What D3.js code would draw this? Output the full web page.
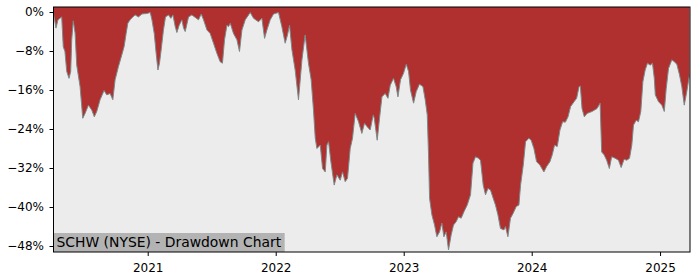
<!DOCTYPE html>
<html>
<head>
<meta charset="utf-8">
<script src="https://cdnjs.cloudflare.com/ajax/libs/d3/7.8.5/d3.min.js"></script>
<style>
  body { margin: 0; background: #fff; }
  svg { display: block; font-family: "DejaVu Sans", sans-serif; }
</style>
</head>
<body>
<div id="chart"></div>
<script>
// dates as decimal years, drawdown in percent
var years = [
  2020.266, 2020.275, 2020.285, 2020.301, 2020.330, 2020.342, 2020.355, 2020.369, 2020.387, 2020.400,
  2020.408, 2020.420, 2020.434, 2020.447, 2020.473, 2020.494, 2020.512, 2020.538, 2020.564, 2020.584,
  2020.603, 2020.629, 2020.660, 2020.681, 2020.707, 2020.728, 2020.746, 2020.772, 2020.798, 2020.816,
  2020.832, 2020.845, 2020.863, 2020.884, 2020.902, 2020.928, 2020.955, 2020.994, 2021.020, 2021.033,
  2021.051, 2021.066, 2021.080, 2021.092, 2021.105, 2021.123, 2021.139, 2021.163, 2021.181, 2021.197,
  2021.215, 2021.228, 2021.246, 2021.267, 2021.280, 2021.293, 2021.319, 2021.345, 2021.371, 2021.397,
  2021.418, 2021.436, 2021.463, 2021.488, 2021.514, 2021.541, 2021.566, 2021.584, 2021.600, 2021.619,
  2021.631, 2021.645, 2021.670, 2021.697, 2021.717, 2021.736, 2021.762, 2021.801, 2021.827, 2021.866,
  2021.892, 2021.913, 2021.931, 2021.957, 2021.983, 2022.022, 2022.048, 2022.074, 2022.092, 2022.108,
  2022.127, 2022.152, 2022.178, 2022.205, 2022.230, 2022.256, 2022.277, 2022.295, 2022.309, 2022.322,
  2022.348, 2022.366, 2022.387, 2022.400, 2022.413, 2022.431, 2022.457, 2022.478, 2022.504, 2022.522,
  2022.543, 2022.561, 2022.582, 2022.600, 2022.621, 2022.647, 2022.673, 2022.694, 2022.713, 2022.738,
  2022.762, 2022.770, 2022.793, 2022.811, 2022.830, 2022.855, 2022.877, 2022.895, 2022.920, 2022.941,
  2022.955, 2022.975, 2022.998, 2023.020, 2023.038, 2023.053, 2023.077, 2023.098, 2023.123, 2023.150,
  2023.168, 2023.184, 2023.194, 2023.202, 2023.220, 2023.241, 2023.259, 2023.280, 2023.298, 2023.314,
  2023.332, 2023.350, 2023.371, 2023.389, 2023.410, 2023.428, 2023.449, 2023.470, 2023.496, 2023.522,
  2023.541, 2023.561, 2023.584, 2023.600, 2023.621, 2023.639, 2023.658, 2023.678, 2023.699, 2023.717,
  2023.736, 2023.756, 2023.783, 2023.795, 2023.814, 2023.834, 2023.855, 2023.879, 2023.900, 2023.913,
  2023.934, 2023.952, 2023.978, 2023.996, 2024.017, 2024.038, 2024.064, 2024.095, 2024.116, 2024.142,
  2024.160, 2024.178, 2024.199, 2024.220, 2024.241, 2024.262, 2024.283, 2024.303, 2024.330, 2024.350,
  2024.369, 2024.379, 2024.392, 2024.410, 2024.431, 2024.470, 2024.509, 2024.533, 2024.545, 2024.564,
  2024.584, 2024.605, 2024.623, 2024.650, 2024.676, 2024.697, 2024.720, 2024.741, 2024.762, 2024.780,
  2024.793, 2024.814, 2024.832, 2024.850, 2024.866, 2024.884, 2024.902, 2024.923, 2024.941, 2024.955,
  2024.963, 2024.988, 2025.014, 2025.033, 2025.048, 2025.066, 2025.092, 2025.111, 2025.131, 2025.152,
  2025.170, 2025.189, 2025.209, 2025.230
];

var drawdown = [
  -0.4, -1.6, -3.3, -1.6, -1.0, -7.1, -8.1, -12.2, -13.6, -12.2,
  -5.7, -1.8, -4.3, -10.9, -15.3, -21.8, -20.8, -19.1, -20.1, -21.5,
  -20.4, -18.0, -16.1, -17.0, -16.7, -18.0, -13.9, -11.2, -8.8, -7.1,
  -4.4, -2.3, -1.6, -1.0, -0.6, -1.0, -0.4, -0.3, -0.1, -1.6,
  -4.4, -8.5, -11.9, -10.5, -7.8, -3.7, -1.0, -0.6, -1.3, -0.6,
  -3.0, -4.2, -2.7, -1.6, -3.3, -4.0, -1.0, -0.6, -1.1, -1.6,
  -0.4, -1.6, -3.7, -4.4, -6.4, -8.5, -10.2, -10.5, -5.7, -2.7,
  -3.0, -2.3, -4.4, -5.7, -8.1, -3.7, -1.6, -0.1, -1.3, -2.0,
  -1.3, -5.4, -3.7, -1.6, -0.4, -0.1, -3.0, -6.4, -4.7, -2.7,
  -7.8, -11.9, -18.0, -9.8, -4.7, -10.5, -13.9, -20.1, -25.9, -28.0,
  -27.3, -32.1, -32.8, -27.3, -26.6, -30.7, -35.5, -33.4, -34.5, -32.8,
  -34.8, -34.1, -28.0, -25.9, -20.8, -22.5, -24.9, -22.8, -23.5, -24.2,
  -21.1, -21.8, -26.3, -21.8, -17.4, -16.7, -17.7, -15.0, -13.6, -15.3,
  -17.4, -13.9, -12.6, -10.7, -12.2, -16.0, -18.7, -16.3, -14.8, -15.3,
  -18.0, -21.1, -29.3, -38.2, -41.6, -43.7, -46.1, -45.1, -43.3, -46.1,
  -45.1, -48.8, -45.7, -43.7, -43.0, -42.0, -42.3, -41.0, -39.6, -37.5,
  -31.0, -29.7, -30.0, -30.4, -35.5, -37.5, -36.2, -36.5, -38.2, -39.6,
  -41.6, -44.4, -44.7, -44.0, -46.1, -42.3, -41.3, -39.9, -39.6, -35.5,
  -31.4, -26.6, -25.9, -26.3, -28.0, -30.7, -31.4, -32.8, -31.7, -30.7,
  -29.3, -27.3, -27.6, -24.2, -22.5, -22.6, -21.5, -19.4, -18.4, -17.7,
  -15.3, -15.2, -19.8, -21.5, -20.8, -20.4, -19.8, -18.7, -28.7, -29.3,
  -30.4, -32.1, -29.7, -30.0, -30.4, -31.9, -30.2, -30.4, -30.0, -27.3,
  -23.2, -22.2, -22.5, -20.4, -14.3, -11.9, -10.5, -10.9, -10.5, -13.6,
  -17.0, -18.4, -19.1, -20.4, -15.7, -11.6, -9.8, -10.2, -10.7, -12.9,
  -15.3, -19.1, -16.3, -12.9
];

var yTicks = [0, -8, -16, -24, -32, -40, -48];
var xTickYears = [2021, 2022, 2023, 2024, 2025];
var title = "SCHW (NYSE) - Drawdown Chart";

function yearToDate(y) {
  var yr = Math.floor(y);
  var start = new Date(yr, 0, 1).getTime();
  var end = new Date(yr + 1, 0, 1).getTime();
  return new Date(start + (y - yr) * (end - start));
}

var data = years.map(function(y, i) {
  return {date: yearToDate(y), value: drawdown[i]};
});

var width = 700, height = 280;
var margin = {top: 7, right: 10, bottom: 28, left: 53.5};
var plotW = 690 - margin.left, plotH = 252 - margin.top;

var svg = d3.select("#chart").append("svg")
    .attr("width", width)
    .attr("height", height);

var x = d3.scaleTime()
    .domain(d3.extent(data, function(d) { return d.date; }))
    .range([0, plotW - 0.5]);

var y = d3.scaleLinear()
    .domain([-49.23, 1.03])
    .range([plotH, 0]);

var g = svg.append("g")
    .attr("transform", "translate(" + margin.left + "," + margin.top + ")");

g.append("rect")
    .attr("width", plotW)
    .attr("height", plotH)
    .attr("fill", "#ececec");

svg.append("clipPath").attr("id", "clip")
  .append("rect")
    .attr("width", plotW)
    .attr("height", plotH);

var area = d3.area()
    .x(function(d) { return x(d.date); })
    .y0(0)
    .y1(function(d) { return y(d.value); });

var line = d3.line()
    .x(function(d) { return x(d.date); })
    .y(function(d) { return y(d.value); });

g.append("path")
    .datum(data)
    .attr("clip-path", "url(#clip)")
    .attr("fill", "#b03030")
    .attr("d", area);

g.append("path")
    .datum(data)
    .attr("clip-path", "url(#clip)")
    .attr("fill", "none")
    .attr("stroke", "#7d8888")
    .attr("stroke-width", 1)
    .attr("d", line);

// axes
var yAxis = d3.axisLeft(y)
    .tickValues(yTicks)
    .tickSize(4)
    .tickPadding(5.5)
    .tickFormat(function(d) { return d3.format("d")(d) + "%"; });

var xAxis = d3.axisBottom(x)
    .tickValues(xTickYears.map(function(yr) { return new Date(yr, 0, 1); }))
    .tickSize(4)
    .tickPadding(7.5)
    .tickFormat(d3.timeFormat("%Y"));

g.append("g")
    .call(yAxis)
    .call(function(a) { a.select(".domain").remove(); })
    .selectAll("text")
    .attr("font-size", 12)
    .attr("font-family", "DejaVu Sans")
    .attr("fill", "#000");

g.append("g")
    .attr("transform", "translate(0," + plotH + ")")
    .call(xAxis)
    .call(function(a) { a.select(".domain").remove(); })
    .selectAll("text")
    .attr("font-size", 12)
    .attr("font-family", "DejaVu Sans")
    .attr("fill", "#000");

g.selectAll(".tick line").attr("stroke", "#000");

// label box in the lower left corner
var label = g.append("g");
var labelText = label.append("text")
    .attr("x", 3)
    .attr("y", plotH - 5)
    .attr("font-size", 13.9)
    .attr("fill", "#000")
    .text(title);
var bb = labelText.node().getBBox();
label.insert("rect", "text")
    .attr("x", 0)
    .attr("y", plotH - 19)
    .attr("width", bb.width + 6)
    .attr("height", 19)
    .attr("fill", "#b3b3b3");

g.append("rect")
    .attr("width", plotW)
    .attr("height", plotH)
    .attr("fill", "none")
    .attr("stroke", "#000")
    .attr("stroke-width", 1);
</script>
</body>
</html>
